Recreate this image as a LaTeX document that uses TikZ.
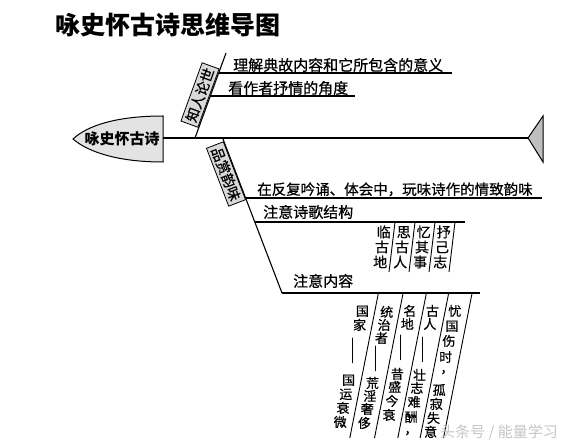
\documentclass[tikz,border=0pt]{standalone}
\usepackage{fontspec}
\setmainfont{Noto Sans CJK SC}
\newfontfamily\medfont{Noto Sans CJK SC}[FakeBold=0.6]
\newcommand\vcolumn[5]{%
  \foreach \ch/\yy [count=\i] in {#5} {%
    \node[ct] (#1-\i) at ({#2-#4*(\yy-#3)},\yy) {\ch};}}
\begin{document}
\begin{tikzpicture}[x=1pt,y=-1pt,
  ln/.style={line width=1.1pt},
  sep/.style={line width=0.9pt},
  t15/.style={inner sep=0pt, font=\medfont\fontsize{15}{15}\selectfont, text height=13.2pt, text depth=1.8pt},
  ct/.style={inner sep=0pt, font=\medfont\fontsize{13}{13}\selectfont, text height=11.4pt, text depth=1.6pt},
  sc/.style={inner sep=0pt, font=\medfont\fontsize{14}{14}\selectfont, text height=12.3pt, text depth=1.7pt},
  dsh/.style={inner sep=0pt, font=\fontsize{16}{16}\selectfont, text height=14pt, text depth=2pt, rotate=-90},
  tagbox/.style={draw, line width=0.8pt, fill=gray!30, inner xsep=3pt, inner ysep=2pt,
    font=\medfont\fontsize{14}{14}\selectfont, text height=12.3pt, text depth=1.7pt},
]
\useasboundingbox (0,0) rectangle (577,446);
\fill[white] (0,0) rectangle (577,446);

% title
\node[inner sep=0pt, font=\bfseries\fontsize{25}{25}\selectfont] (title) at (168,25) {咏史怀古诗思维导图};

% head
\draw[line width=1pt, fill=gray!22] (163,116) -- (163,162)
  .. controls (118,162) and (88,152) .. (73,139)
  .. controls (88,125) and (118,116) .. (163,116) -- cycle;
\node[t15, font=\bfseries\fontsize{15}{15}\selectfont] (head) at (122,139) {咏史怀古诗};

% spine and tail
\coordinate (hR) at (163,138);
\coordinate (tL) at (528,138);
\draw[line width=1.2pt] (hR) -- (tL);
\draw[line width=1pt, fill=gray!50] (tL) -- (543,116) -- (543,162) -- cycle;

% upper branch
\coordinate (u0) at (195,138);
\coordinate (u1) at (226,53);
\draw[ln] (u0) -- (u1);
\coordinate (ua) at (218.7,73);
\coordinate (uaE) at (452,73);
\coordinate (ub) at (210.3,96);
\coordinate (ubE) at (355,96);
\draw[ln] (ua) -- (uaE);
\draw[ln] (ub) -- (ubE);
\node[t15, anchor=west] (ta) at (233,65) {理解典故内容和它所包含的意义};
\node[t15, anchor=west] (tb) at (228,88) {看作者抒情的角度};
\node[tagbox, rotate=70] (zr) at (200,95) {知人论世};

% lower branch
\coordinate (l0) at (222.6,138);
\coordinate (l1) at (282,293);
\draw[ln] (l0) -- (l1);
\coordinate (la) at (245.8,198);
\coordinate (laE) at (542,198);
\coordinate (lb) at (255,222);
\coordinate (lbE) at (465,222);
\coordinate (lcE) at (480,293);
\draw[ln] (la) -- (laE);
\draw[ln] (lb) -- (lbE);
\draw[ln] (l1) -- (lcE);
\node[t15, font=\medfont\fontsize{14.5}{14.5}\selectfont, anchor=west] (tc) at (257,189) {在反复吟诵、体会中，玩味诗作的情致韵味};
\node[t15, anchor=west] (td) at (263,212) {注意诗歌结构};
\node[t15, anchor=west] (te) at (293,281) {注意内容};
\node[tagbox, rotate=-69] (pw) at (226,174) {品赏韵味};

% structure columns
\foreach \k/\xt in {1/395, 2/415, 3/435, 4/455} {
  \coordinate (s\k t) at (\xt,222);
  \coordinate (s\k b) at (\xt-6,272);
  \draw[sep] (s\k t) -- (s\k b);
}
\begin{scope}[ct/.style={sc}]
\vcolumn{sa}{385}{222}{0.12}{临/232, 古/247, 地/262}
\vcolumn{sb}{405}{222}{0.12}{思/232, 古/247, 人/262}
\vcolumn{sc}{425}{222}{0.12}{忆/232, 其/247, 事/262}
\vcolumn{sd}{445}{222}{0.12}{抒/232, 己/247, 志/262}
\end{scope}

% content columns
\foreach \k/\xt in {1/378.4, 2/403.1, 3/426.4, 4/448.7, 5/472.1} {
  \coordinate (p\k t) at (\xt,293);
  \coordinate (p\k b) at (\xt-28.6,438);
  \draw[sep] (p\k t) -- (p\k b);
}
\vcolumn{ca}{364}{303}{0.2}{国/311, 家/325, 国/380, 运/394, 衰/408, 微/422}
\node[dsh] (ca-d) at ({364-0.2*(351-303)},351) {——};
\vcolumn{cb}{388.5}{303}{0.2}{统/312, 治/325, 者/338, 荒/383, 淫/396, 奢/409, 侈/423}
\node[dsh] (cb-d) at ({388.5-0.2*(359-303)},359) {——};
\vcolumn{cc}{411.5}{303}{0.2}{名/311, 地/324, 昔/374, 盛/387, 今/401, 衰/415}
\node[dsh] (cc-d) at ({411.5-0.2*(348-303)},348) {——};
\vcolumn{cd}{434}{303}{0.2}{古/311, 人/324, 壮/375, 志/388, 难/402, 酬/417}
\node[dsh] (cd-d) at ({434-0.2*(350-303)},350) {——};
\node[ct] (cd-c) at (411,429) {，};
\vcolumn{ce}{456.5}{303}{0.2}{忧/311, 国/326, 伤/341, 时/357, 孤/390, 寂/404, 失/418, 意/432}
\node[ct] (ce-c) at (447,368) {，};

% watermark
\node[inner sep=0pt, anchor=west, text=gray!45, font=\fontsize{15}{15}\selectfont] (wm) at (440,432) {头条号 / 能量学习};
\end{tikzpicture}
\end{document}
